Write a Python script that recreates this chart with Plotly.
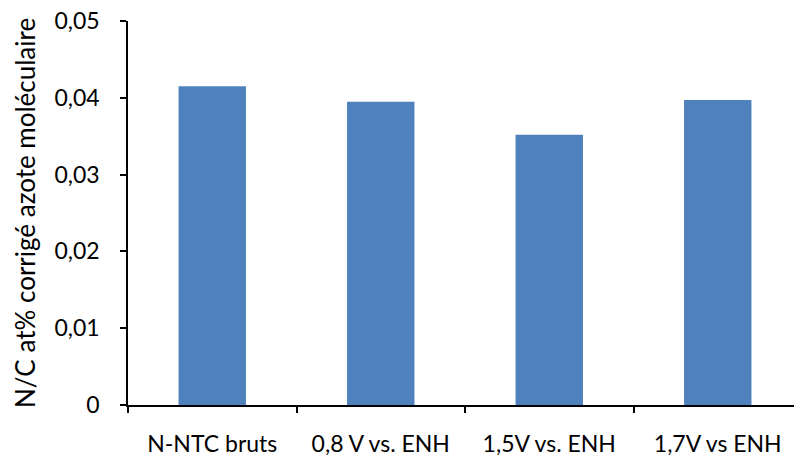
import plotly.graph_objects as go

categories = ["N-NTC bruts", "0,8 V vs. ENH", "1,5V vs. ENH", "1,7V vs ENH"]
values = [0.0415, 0.0395, 0.0352, 0.0397]
y_ticks = [0, 0.01, 0.02, 0.03, 0.04, 0.05]
y_labels = ["0", "0,01", "0,02", "0,03", "0,04", "0,05"]
y_title = "N/C at% corrigé azote moléculaire"

fig = go.Figure()
fig.add_trace(go.Bar(x=categories, y=values, marker=dict(color="#4F81BD", line=dict(width=0)),
                     width=0.4))

font = dict(family="Lato, Open Sans, sans-serif", size=23, color="#000000")

# the page body has an 8px margin, so the figure is 8px smaller than the window
fig.update_layout(
    width=794, height=452,
    margin=dict(l=120, r=0, t=13, b=55, autoexpand=False),
    plot_bgcolor="white", paper_bgcolor="white",
    showlegend=False,
    font=font,
    xaxis=dict(showline=True, linecolor="black", linewidth=1.5, automargin=False,
               ticks="outside", tickson="boundaries", ticklen=6, tickwidth=1.5, tickcolor="black",
               ticklabelstandoff=18, ticklabeloverflow="allow", showgrid=False, tickfont=font),
    yaxis=dict(range=[0, 0.05], tickvals=y_ticks, ticktext=y_labels, automargin=False,
               showline=True, linecolor="black", linewidth=1.5,
               ticks="outside", ticklen=6, tickwidth=1.5, tickcolor="black",
               ticklabelstandoff=16, ticklabeloverflow="allow", showgrid=False, zeroline=False,
               tickfont=font),
)

# axis title placed by hand so it sits where the original one does
fig.add_annotation(text=y_title, textangle=-90, showarrow=False,
                   xref="paper", yref="paper", x=(17 - 120) / 674, y=0.5,
                   xanchor="center", yanchor="middle",
                   font=dict(family="Lato, Open Sans, sans-serif", size=26, color="#000000"))

fig.write_html("out.html")
